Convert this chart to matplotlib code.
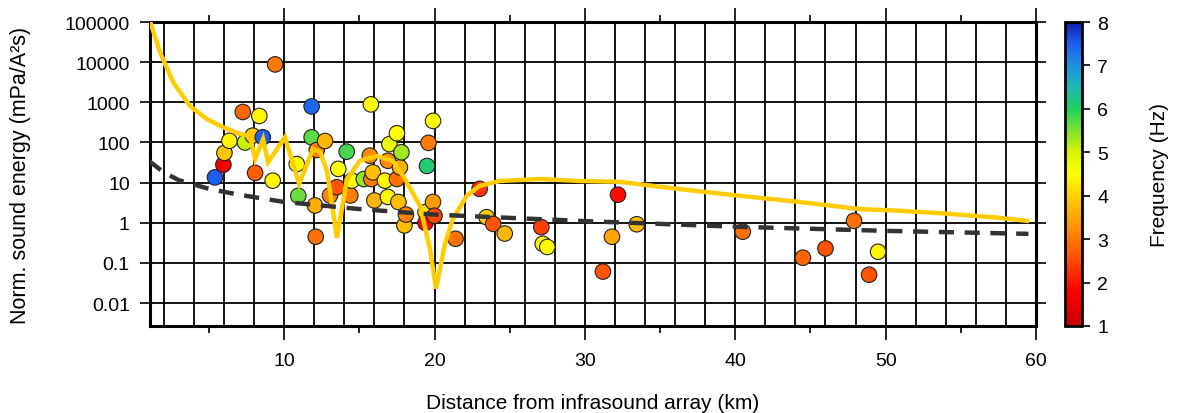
import numpy as np
import matplotlib
matplotlib.use("Agg")
import matplotlib.pyplot as plt
from matplotlib.colors import LinearSegmentedColormap, Normalize
from matplotlib.ticker import MultipleLocator, FixedLocator

plt.rcParams['font.family'] = ['Liberation Sans', 'DejaVu Sans']

# observed events: distance (km), normalised sound energy, dominant frequency (Hz)
dist = [5.4, 5.96, 6.03, 6.36, 7.25, 7.4, 7.91, 8.07, 8.35, 8.58,
        9.24, 9.4, 10.84, 10.94, 11.83, 11.83, 12.17, 12.72, 12.05, 12.1,
        13.05, 13.5, 13.6, 14.16, 14.4, 14.5, 15.3, 15.7, 15.77, 15.8,
        15.9, 16.0, 16.7, 16.9, 16.9, 17.0, 17.5, 17.5, 17.6, 17.7,
        17.8, 18.0, 18.1, 19.4, 19.4, 19.5, 19.6, 19.9, 19.9, 20.0,
        21.4, 23.0, 23.46, 23.9, 24.67, 27.1, 27.2, 27.5, 31.2, 31.8,
        32.2, 33.45, 40.5, 44.5, 46.0, 47.9, 48.9, 49.5]
energy = [13.5, 28, 55, 110, 575, 100, 148, 17.5, 457, 135,
          11.2, 8800, 29, 4.7, 790, 134, 65, 109, 2.7, 0.45,
          4.8, 7.7, 22, 59, 4.8, 11.2, 12.3, 47, 890, 12.3,
          18, 3.6, 11.2, 35, 4.4, 91, 170, 12.3, 3.3, 24,
          57, 0.86, 1.6, 1.84, 1.0, 26, 98, 3.3, 345, 1.5,
          0.40, 7.0, 1.38, 0.94, 0.54, 0.78, 0.30, 0.25, 0.061, 0.45,
          5.0, 0.92, 0.60, 0.135, 0.23, 1.12, 0.051, 0.19]
freq = [7.5, 1.7, 3.9, 4.4, 2.8, 5.1, 3.9, 2.7, 4.4, 7.5,
        4.4, 3.0, 4.5, 5.6, 7.4, 5.7, 3.0, 3.7, 3.6, 2.9,
        3.1, 2.6, 4.5, 5.8, 3.1, 4.5, 5.4, 3.2, 4.5, 3.0,
        3.8, 3.7, 4.4, 3.2, 4.4, 4.8, 4.5, 2.9, 3.8, 3.6,
        5.3, 3.8, 3.1, 4.3, 1.9, 6.1, 3.0, 3.4, 4.5, 2.5,
        2.9, 2.3, 4.0, 2.6, 3.7, 2.4, 4.4, 4.5, 2.6, 3.5,
        1.9, 3.8, 2.9, 2.8, 2.6, 2.9, 2.6, 4.4]

# modelled curve (yellow)
model_x = [1.0, 1.75, 2.62, 3.75, 4.88, 5.94, 7.07, 7.73, 8.07, 8.6,
           8.93, 10.06, 11.0, 11.92, 12.39, 12.85, 13.51, 14.18, 15.04, 16.17,
           17.23, 17.9, 19.04, 19.7, 20.1, 20.7, 21.22, 22.15, 23.0, 24.35,
           27.0, 29.66, 32.3, 36.3, 40.3, 44.27, 48.26, 50.9, 54.25, 57.57, 59.4]
model_y = [130000, 17500, 3160, 800, 380, 240, 162, 145, 39, 120,
           32, 135, 9.3, 69, 58, 19.5, 0.42, 12.3, 35, 46,
           35, 15, 2.6, 0.22, 0.023, 0.30, 1.26, 4.7, 8.3, 11,
           12.3, 11, 10.5, 6.9, 4.7, 3.3, 2.2, 2.0, 1.67, 1.33, 1.12]

# reference decay (dashed)
ref_x = [1.0, 2.0, 3.0, 5.0, 7.0, 10.0, 15.0, 20.0, 30.0, 40.0, 50.0, 59.5]
ref_y = [35, 18, 11.5, 7.0, 5.0, 3.3, 2.2, 1.6, 1.1, 0.8, 0.63, 0.53]

cb_ticks = [1, 2, 3, 4, 5, 6, 7, 8]

cmap = LinearSegmentedColormap.from_list('freq', [
    (0.0, '#c80000'), (0.8 / 7, '#ff0000'), (1.5 / 7, '#ff4a00'),
    (2.0 / 7, '#ff7a00'), (2.5 / 7, '#ffa500'), (3.0 / 7, '#ffd000'),
    (3.5 / 7, '#ffff00'), (4.0 / 7, '#d8f400'), (4.5 / 7, '#80e030'),
    (5.0 / 7, '#20d060'), (5.5 / 7, '#20b8b0'), (6.0 / 7, '#2090e0'),
    (6.5 / 7, '#1f5ff0'), (1.0, '#1020b0')])
norm = Normalize(vmin=1, vmax=8)

fig = plt.figure(figsize=(11.77, 4.14), dpi=100)
ax = fig.add_axes([150 / 1177, 87 / 414, 886 / 1177, 304 / 414])

ax.set_yscale('log')
ax.set_xlim(1.08, 60)
ax.set_ylim(10 ** -2.57, 1e5)

# grid
for g in np.arange(2, 60, 2):
    ax.axvline(g, color='black', lw=1.3, zorder=1)
ax.yaxis.set_major_locator(FixedLocator([1e-2, 1e-1, 1, 10, 100, 1e3, 1e4, 1e5]))
ax.yaxis.set_minor_locator(FixedLocator([]))
ax.set_yticklabels(['0.01', '0.1', '1', '10', '100', '1000', '10000', '100000'])
ax.grid(axis='y', which='major', color='black', lw=1.3, zorder=1)
ax.set_axisbelow(True)

sc = ax.scatter(dist, energy, c=freq, cmap=cmap, norm=norm, s=125,
                edgecolors='#222222', linewidths=0.8, zorder=3)
ax.plot(model_x, model_y, color='#ffcc00', lw=3.2, zorder=4, solid_joinstyle='miter')
ax.plot(ref_x, ref_y, color='#333333', lw=3.2, ls=(0, (3.4, 2.4)), zorder=5)

ax.xaxis.set_major_locator(MultipleLocator(10))
ax.xaxis.set_minor_locator(MultipleLocator(5))
ax.tick_params(axis='x', which='major', length=10, width=1.2, pad=9, top=True,
               direction='out', labelsize=14)
ax.tick_params(axis='x', which='minor', length=5, width=1.2, top=True, direction='out')
ax.tick_params(axis='y', which='major', length=7.5, width=1.2, right=True,
               direction='out', labelsize=14, pad=7)
for s in ax.spines.values():
    s.set_linewidth(2.2)

ax.set_xlabel('Distance from infrasound array (km)', fontsize=15, labelpad=17)
ax.set_ylabel('Norm. sound energy (mPa/A²s)', fontsize=15.5, labelpad=24)

cax = fig.add_axes([1065 / 1177, 87 / 414, 17 / 1177, 304 / 414])
cb = fig.colorbar(sc, cax=cax)
cb.set_ticks(cb_ticks)
cb.ax.tick_params(length=6, width=1.2, labelsize=14, pad=5)
cb.outline.set_linewidth(2)
cb.set_label('Frequency (Hz)', fontsize=15, labelpad=30)

fig.savefig('out.png', dpi=100)
